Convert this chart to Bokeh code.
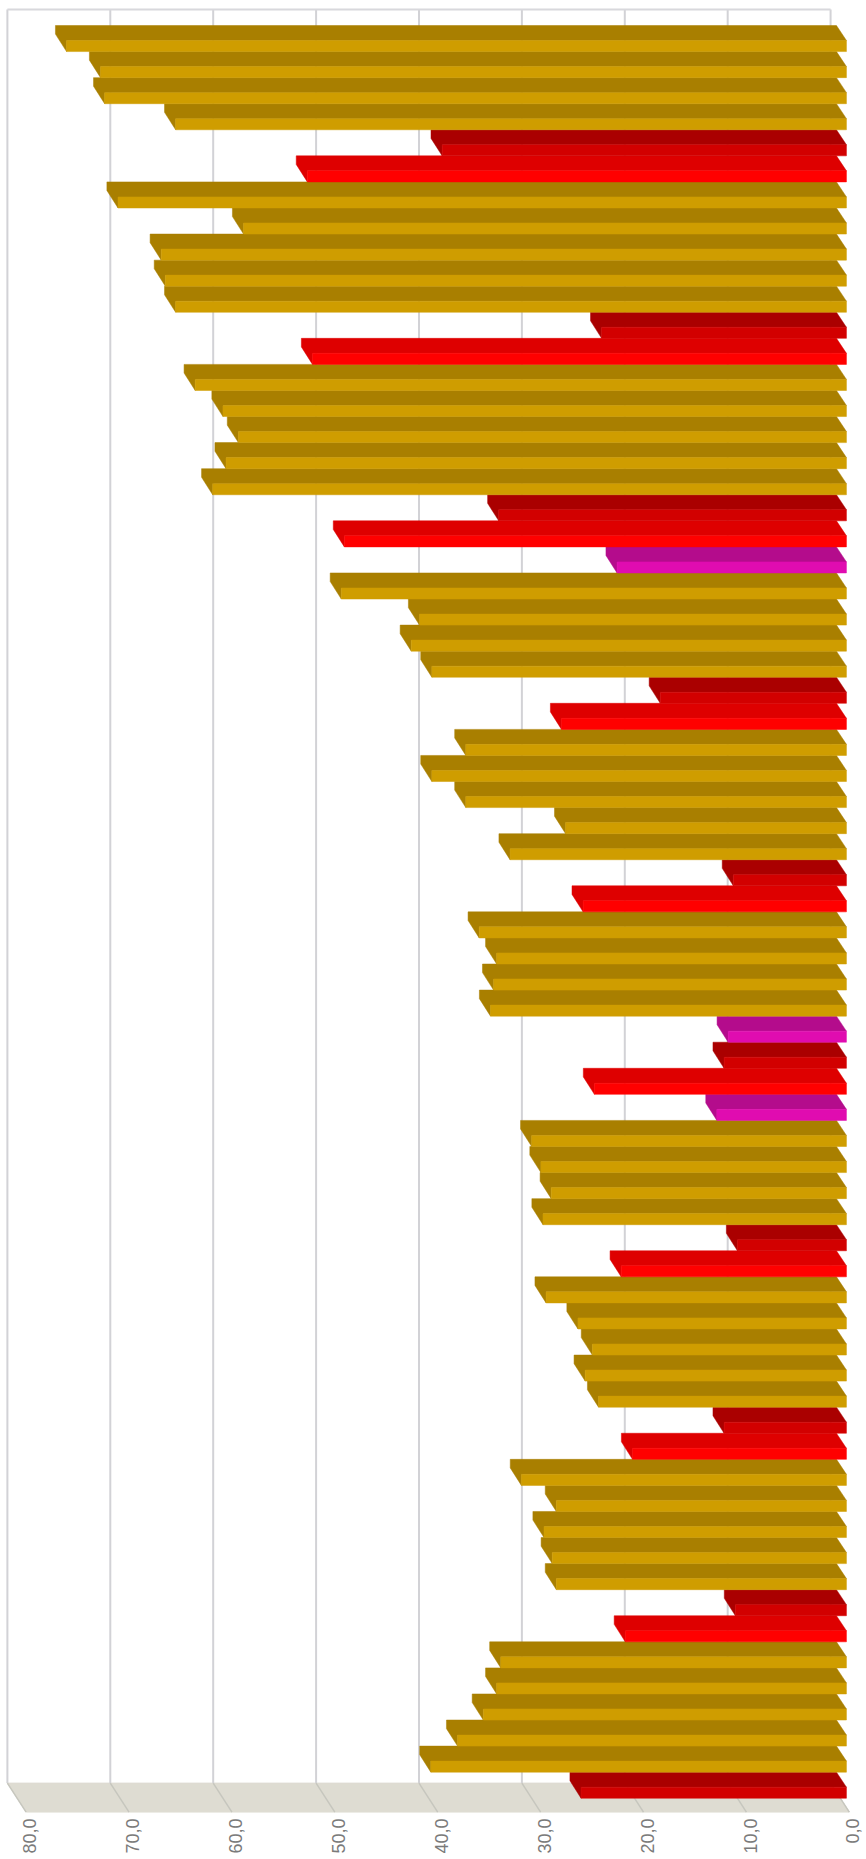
from math import pi
from bokeh.plotting import figure
from bokeh.models import Range1d, ColumnDataSource
from bokeh.core.properties import value
from bokeh.embed import file_html
from bokeh.resources import INLINE

G, D, R, M = "gold", "darkred", "red", "magenta"

# top to bottom
values = [75.9, 72.6, 72.2, 65.3, 39.4, 52.5, 70.9, 58.7, 66.7, 66.3, 65.3, 23.9,
          52.0, 63.4, 60.7, 59.2, 60.4, 61.7, 33.9, 48.9, 22.4, 49.2, 41.6, 42.4,
          40.4, 18.2, 27.8, 37.1, 40.4, 37.1, 27.4, 32.8, 11.1, 25.7, 35.8, 34.1,
          34.4, 34.7, 11.6, 12.0, 24.6, 12.7, 30.7, 29.8, 28.8, 29.6, 10.7, 22.0,
          29.3, 26.2, 24.8, 25.5, 24.2, 12.0, 20.9, 31.7, 28.3, 29.5, 28.7, 28.3,
          10.9, 21.6, 33.7, 34.1, 35.4, 37.9, 40.5, 25.9]
series = [G, G, G, G, D, R, G, G, G, G, G, D,
          R, G, G, G, G, G, D, R, M, G, G, G,
          G, D, R, G, G, G, G, G, D, R, G, G,
          G, G, M, D, R, M, G, G, G, G, D, R,
          G, G, G, G, G, D, R, G, G, G, G, G,
          D, R, G, G, G, G, G, D]
top_colors = {G: "#A97F00", D: "#AA0000", R: "#DE0000", M: "#B40C8C"}
front_colors = {G: "#CF9D00", D: "#D20000", R: "#FF0000", M: "#E00CB0"}

ticks = [0, 10, 20, 30, 40, 50, 60, 70, 80]
tick_labels = ["0,0", "10,0", "20,0", "30,0", "40,0", "50,0", "60,0", "70,0", "80,0"]

# 3-D projection, in data units
BACK = -0.57          # back edge of a bar, seen against the wall
FRONT = -1.54         # front edge of a bar
FAR_END = 1.08        # depth shift of the far end of a bar
TOP_SHARE = 0.575     # share of the slot taken by the top face
EDGE = 0.33           # short vertical at the far end of a bar
WALL_TOP = -0.615
FLOOR_BACK = 67.42
FLOOR_FRONT = 68.53
FLOOR_DX = -1.82

W, H = 866, 1859
p = figure(width=W, height=H, output_backend="svg", toolbar_location=None,
           x_range=Range1d(80.67, -3.49), y_range=Range1d(70.35, -0.959),
           min_border=0, outline_line_color=None, background_fill_color="white",
           border_fill_color="white")
p.axis.visible = False
p.grid.visible = False

# floor
p.patch([80, 0, FLOOR_DX, 80 + FLOOR_DX], [FLOOR_BACK, FLOOR_BACK, FLOOR_FRONT, FLOOR_FRONT],
        fill_color="#DEDCD2", line_color="#DEDCD2")
# wall grid
p.segment(x0=ticks, y0=[WALL_TOP] * 9, x1=ticks, y1=[FLOOR_BACK] * 9,
          line_color="#D2D2D6", line_width=2)
p.segment(x0=[80], y0=[WALL_TOP], x1=[0], y1=[WALL_TOP], line_color="#D8D8DC", line_width=2)
p.segment(x0=ticks, y0=[FLOOR_BACK] * 9, x1=[t + FLOOR_DX for t in ticks], y1=[FLOOR_FRONT] * 9,
          line_color="#C6C6BE", line_width=1.5)

# bars
dx, dy, dc = [], [], []
fx, fy, fc = [], [], []
for i, (v, s) in enumerate(zip(values, series)):
    lb = v + BACK
    lf = lb - FAR_END
    ym = i + TOP_SHARE
    dx.append([lb, BACK, FRONT, lf, lf, lb])
    dy.append([i, i, ym, ym, i + 1, i + EDGE])
    dc.append(top_colors[s])
    fx.append([lf, FRONT, FRONT, lf])
    fy.append([ym, ym, i + 1, i + 1])
    fc.append(front_colors[s])
p.patches(dx, dy, fill_color=dc, line_color=dc, line_width=0.5)
p.patches(fx, fy, fill_color=fc, line_color=fc, line_width=0.5)

# tick labels
src = ColumnDataSource(dict(x=[t + FLOOR_DX - 0.35 for t in ticks],
                            y=[FLOOR_FRONT + 0.25] * 9, t=tick_labels))
p.text("x", "y", text="t", source=src, angle=pi / 2, text_align="right", text_baseline="middle",
       text_font=value("Liberation Sans"), text_font_size="18px", text_color="#7A7A7A")

open("out.html", "w").write(file_html(p, INLINE))
